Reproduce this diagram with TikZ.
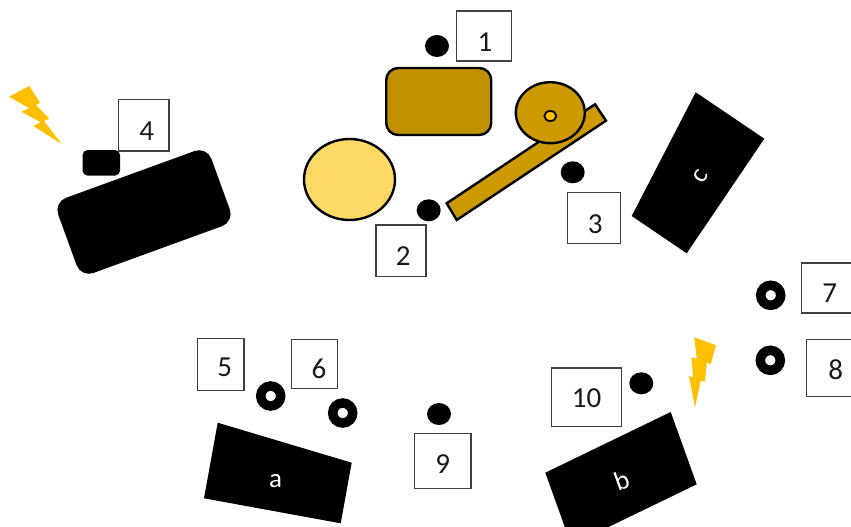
\documentclass[tikz,border=0pt]{standalone}
\usepackage{fontspec}
\setmainfont{Carlito}
\usetikzlibrary{shapes.geometric}
\definecolor{boltcol}{RGB}{255,192,0}
\definecolor{boxcol}{RGB}{64,64,64}
\definecolor{drumcol}{RGB}{191,144,0}
\definecolor{armcol}{RGB}{204,153,0}
\definecolor{lampcol}{RGB}{255,217,102}
\tikzset{
	numbox/.style={draw=boxcol, line width=1.2pt, inner sep=0pt},
	numtext/.style={font=\fontsize{29}{30}\selectfont, text=black!90, inner sep=0pt},
	dot/.style={ellipse, fill=black, inner sep=0pt, minimum width=24pt, minimum height=22pt},
	ring/.style={circle, draw=black, line width=9.5pt, fill=white, inner sep=0pt, minimum size=20pt},
	blockfill/.style={fill=black},
	blocktext/.style={font=\fontsize{27}{28}\selectfont, text=white, inner sep=0pt},
	partline/.style={draw=black, line width=2.4pt}
}

\begin{document}
\begin{tikzpicture}[x=1pt, y=-1pt]
	\useasboundingbox (0,0) rectangle (851,527);
	% bolts
	\fill[boltcol] (9,96.7) -- (29.3,86) -- (40,102.7) -- (36,105) -- (49.3,118.7) -- (44,121) -- (61.7,144) -- (33.3,126) -- (40.7,122.3) -- (21.3,111.7) -- (29.3,108.3) -- cycle;
	\fill[boltcol] (694.3,337.3) -- (716,345.3) -- (710.7,364) -- (706.7,362.7) -- (705,381.7) -- (700.7,380.7) -- (695,407.3) -- (689,376) -- (693.3,377.3) -- (691.3,357.3) -- (696.7,358.7) -- cycle;

	% left block
	\node[fill=black, rounded corners=13pt, inner sep=0pt, minimum width=163pt, minimum height=80pt, rotate=20] (blockd) at (144,212) {};
	\node[fill=black, rounded corners=5pt, inner sep=0pt, minimum width=37.5pt, minimum height=25.5pt] (tip) at (101.3,162.8) {};

	% blocks a, b, c
	\fill[blockfill] (217.7,422.7) -- (351.7,462.7) -- (340.7,523.3) -- (204,498.3) -- cycle;
	\fill[blockfill] (670.7,412) -- (696.7,484.3) -- (571.3,545) -- (545.3,472.7) -- cycle;
	\fill[blockfill] (695.7,92.3) -- (764.3,138.7) -- (686.7,253.3) -- (631.7,216) -- cycle;
	\node[blocktext] (laba) at (275.7,481) {a};
	\node[blocktext, rotate=20] (labb) at (621.7,480) {b};
	\node[blocktext, rotate=60] (labc) at (701,176.7) {c};

	% centre parts
	\node[partline, fill=drumcol, rounded corners=12pt, inner sep=0pt, minimum width=105pt, minimum height=67pt] (drum) at (438.7,101.5) {};
	\node[partline, fill=lampcol, ellipse, inner sep=0pt, minimum width=91pt, minimum height=81pt] (lamp) at (349.5,179.5) {};
	\filldraw[fill=armcol, draw=black, line width=2.4pt] (446.7,203.3) -- (595,104.3) -- (606,120.7) -- (456.7,220) -- cycle;
	\node[partline, fill=armcol, ellipse, inner sep=0pt, minimum width=69pt, minimum height=61pt] (wheel) at (550.3,112.7) {};
	\node[draw=black, line width=1.8pt, fill=boltcol, ellipse, inner sep=0pt, minimum width=12pt, minimum height=10pt] (hub) at (550.3,116) {};

	% dots
	\node[dot] (dot1) at (437,46) {};
	\node[dot] (dot2) at (428.7,210.3) {};
	\node[dot] (dot3) at (572.7,172.3) {};
	\node[dot] (dot9) at (439,414) {};
	\node[dot] (dot10) at (641.3,383.3) {};

	% rings
	\node[ring] (ring5) at (270.7,396) {};
	\node[ring] (ring6) at (342.7,413) {};
	\node[ring] (ring7) at (770.7,295.3) {};
	\node[ring] (ring8) at (770.3,360.3) {};

	% numbered boxes
	\node[numbox, minimum width=55pt, minimum height=50pt] (box1) at (483.7,36) {};
	\node[numbox, minimum width=50pt, minimum height=51.7pt] (box2) at (401,250.8) {};
	\node[numbox, minimum width=52.3pt, minimum height=50.3pt] (box3) at (594,218) {};
	\node[numbox, minimum width=50.3pt, minimum height=51.7pt] (box4) at (143.8,125.2) {};
	\node[numbox, minimum width=46.7pt, minimum height=51.6pt] (box5) at (220.7,364.5) {};
	\node[numbox, minimum width=46.7pt, minimum height=48.6pt] (box6) at (314.5,364) {};
	\node[numbox, minimum width=60pt, minimum height=50pt] (box7) at (831.7,288) {};
	\node[numbox, minimum width=60pt, minimum height=56.6pt] (box8) at (836.7,368) {};
	\node[numbox, minimum width=56.7pt, minimum height=55pt] (box9) at (442.7,460.8) {};
	\node[numbox, minimum width=70.4pt, minimum height=58.7pt] (box10) at (586.5,397.3) {};

	\node[numtext] (num1) at (485,42) {1};
	\node[numtext] (num2) at (403.3,256) {2};
	\node[numtext] (num3) at (595.3,224) {3};
	\node[numtext] (num4) at (146.7,130.7) {4};
	\node[numtext] (num5) at (224.7,367.7) {5};
	\node[numtext] (num6) at (319,369.3) {6};
	\node[numtext] (num7) at (829.7,293.3) {7};
	\node[numtext] (num8) at (835.7,370) {8};
	\node[numtext] (num9) at (442.7,464) {9};
	\node[numtext] (num10) at (586.5,398) {10};
\end{tikzpicture}
\end{document}
